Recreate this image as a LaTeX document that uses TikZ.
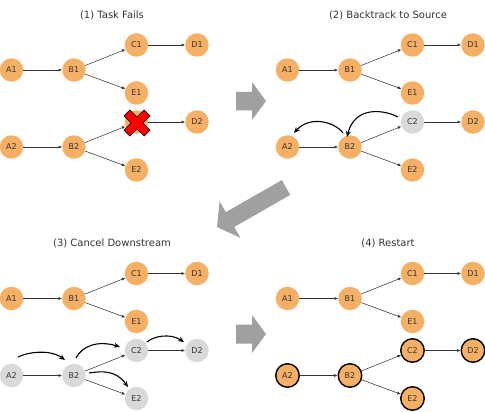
\documentclass[tikz,border=0pt]{standalone}
\usepackage{fontspec}
\setmainfont{DejaVu Sans}
\usetikzlibrary{arrows.meta}
\definecolor{nodeor}{HTML}{F5B066}
\definecolor{nodegr}{HTML}{D9D9D9}
\definecolor{bigar}{HTML}{A0A0A0}
\definecolor{txt}{HTML}{333333}
\tikzset{
 tnode/.style={circle, minimum size=23.5pt, inner sep=0pt, font=\fontsize{8}{9}\selectfont, text=txt},
 orn/.style={tnode, fill=nodeor},
 grn/.style={tnode, fill=nodegr},
 ornb/.style={tnode, fill=nodeor, draw=black, line width=1.4pt},
 edge/.style={draw=txt, line width=0.55pt, -{Latex[length=3.5pt,width=3pt]}},
 curv/.style={draw=black, line width=1.1pt, -{Stealth[length=6pt,width=5pt]}},
 bigarrow/.style={fill=bigar, draw=none},
 ttl/.style={font=\fontsize{10}{12}\selectfont, text=txt},
 redx/.style={fill=red, draw=black, line width=0.6pt, line join=miter},
}
\newcommand\mkpanel[6]{%
\begin{scope}[shift={(#2,#3)}]
 \node[ttl] (#1t) at (112,15) {#4};
 \node[orn] (#1A1) at (11.5,70) {A1};
 \node[orn] (#1B1) at (74,70) {B1};
 \node[orn] (#1C1) at (136.5,45) {C1};
 \node[orn] (#1D1) at (197,45) {D1};
 \node[orn] (#1E1) at (136.5,93) {E1};
 \node[#5] (#1A2) at (11.5,147) {A2};
 \node[#5] (#1B2) at (74,147) {B2};
 \node[#6] (#1C2) at (136.5,122) {C2};
 \node[#5] (#1D2) at (197,122) {D2};
 \node[#5] (#1E2) at (136.5,170) {E2};
 \draw[edge] (#1A1) -- (#1B1);
 \draw[edge] (#1B1) -- (#1C1);
 \draw[edge] (#1B1) -- (#1E1);
 \draw[edge] (#1C1) -- (#1D1);
 \draw[edge] (#1A2) -- (#1B2);
 \draw[edge] (#1B2) -- (#1C2);
 \draw[edge] (#1B2) -- (#1E2);
 \draw[edge] (#1C2) -- (#1D2);
\end{scope}}
\begin{document}
\begin{tikzpicture}[x=1pt,y=-1pt]
\useasboundingbox (0,0) rectangle (485,412);
\mkpanel{p}{0}{0}{(1) Task Fails}{orn}{orn}
\mkpanel{q}{276}{0}{(2) Backtrack to Source}{orn}{grn}
\mkpanel{r}{0}{228.5}{(3) Cancel Downstream}{grn}{grn}
\mkpanel{s}{276}{228.5}{(4) Restart}{ornb}{ornb}
% red cross
\begin{scope}[shift={(137,123)}, rotate=45]
 \draw[redx] (4.2,4.2) -- (4.2,14.2) -- (-4.2,14.2) -- (-4.2,4.2) -- (-14.2,4.2) -- (-14.2,-4.2) -- (-4.2,-4.2) -- (-4.2,-14.2) -- (4.2,-14.2) -- (4.2,-4.2) -- (14.2,-4.2) -- (14.2,4.2) -- cycle;
\end{scope}
% big arrows
\fill[bigarrow] (236,92) -- (252,92) -- (252,82) -- (266,101) -- (252,120) -- (252,110.5) -- (236,110.5) -- cycle;
\fill[bigarrow] (236,324.5) -- (252,324.5) -- (252,315) -- (266,334) -- (252,353) -- (252,343.5) -- (236,343.5) -- cycle;
\fill[bigarrow] (281.8,180.1) -- (290.2,194.9) -- (234.2,227.0) -- (240.4,237.8) -- (217,227) -- (219.6,201.4) -- (225.8,212.2) -- cycle;
% backtrack curves (panel 2)
\coordinate (q1s) at (398,117); \coordinate (q1e) at (347,137);
\coordinate (q2s) at (343,133); \coordinate (q2e) at (294,133);
\draw[curv] (q1s) .. controls (385,110) and (355,105) .. (q1e);
\draw[curv] (q2s) .. controls (335,122) and (310,115) .. (q2e);
% cancel curves (panel 3)
\coordinate (r1s) at (18,357); \coordinate (r1e) at (65,360);
\coordinate (r2s) at (76,358); \coordinate (r2e) at (120,347);
\coordinate (r3s) at (147,342); \coordinate (r3e) at (184,342);
\coordinate (r4s) at (89,373); \coordinate (r4e) at (128,387);
\draw[curv] (r1s) .. controls (28,352) and (50,349) .. (r1e);
\draw[curv] (r2s) .. controls (82,346) and (98,340) .. (r2e);
\draw[curv] (r3s) .. controls (154,336) and (170,333) .. (r3e);
\draw[curv] (r4s) .. controls (102,371) and (116,370) .. (r4e);
\end{tikzpicture}
\end{document}
